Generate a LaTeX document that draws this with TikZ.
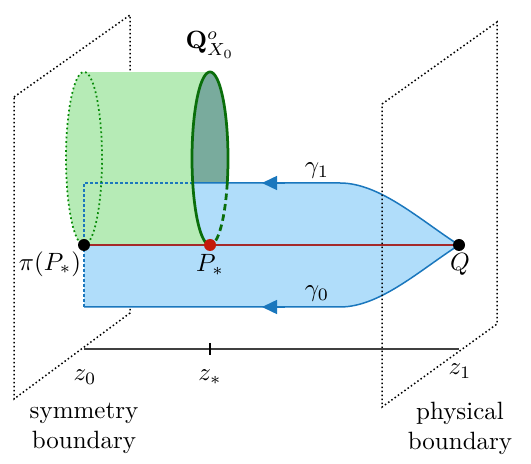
\documentclass[tikz,border=0pt]{standalone}
\usetikzlibrary{arrows.meta}
\definecolor{bfill}{HTML}{B0DDFA}
\definecolor{bline}{HTML}{1A77BD}
\definecolor{gfill}{HTML}{B6EBB6}
\definecolor{gface}{HTML}{79AB9D}
\definecolor{gline}{HTML}{0A6E0A}
\definecolor{rdot}{HTML}{C41A0A}
\definecolor{rline}{HTML}{A52A2A}
\tikzset{
  plane/.style={black, line width=0.6pt, dash pattern=on 0.6pt off 1.0pt},
  bluepath/.style={bline, line width=0.6pt},
  bluedash/.style={bline, line width=0.6pt, dash pattern=on 1.2pt off 0.8pt},
  gsolid/.style={gline, line width=1.1pt},
  gdash/.style={gline, line width=1.1pt, dash pattern=on 2.6pt off 1.6pt},
  gdot/.style={gline!80!green, line width=0.7pt, dash pattern=on 0.7pt off 1.1pt},
  garrow/.style={bline, -{Triangle[length=6pt,width=5.6pt]}, line width=0.6pt},
  dot/.style={circle, fill=black, inner sep=0pt, minimum size=4.8pt},
  lbl/.style={inner sep=1pt},
}
\begin{document}
\begin{tikzpicture}[x=0.4pt,y=-0.4pt]
\useasboundingbox (0,0) rectangle (531,464);
% points
\coordinate (pi) at (84,245);
\coordinate (P) at (210,245);
\coordinate (Q) at (459,245);
\coordinate (t0) at (84,183);
\coordinate (t1) at (192.7,183);
\coordinate (t2) at (340,183);
\coordinate (b0) at (84,307);
\coordinate (b2) at (340,307);
% left plane
\draw[plane] (14,97) coordinate (L1) -- (130,15) coordinate (L2) -- (130,313) coordinate (L3) -- (14,399) coordinate (L4) -- cycle;
% blue sheet
\fill[bfill] (t0) -- (t2) .. controls (380,183) and (420,220) .. (Q)
  .. controls (420,270) and (380,307) .. (b2) -- (b0) -- cycle;
% green cylinder body
\fill[gfill] (84,72) -- (210,72) -- (210,245) -- (84,245) -- cycle;
\fill[gfill] (84,158.5) ellipse [x radius=18, y radius=86.5];
% right face
\begin{scope}
  \clip (150,60) rectangle (260,183);
  \fill[gface] plot[domain=0:360, samples=120] ({210+18*cos(\x)},{158.5+86.5*sin(\x)});
\end{scope}
\begin{scope}
  \clip (150,183) rectangle (260,260);
  \fill[bfill] plot[domain=0:360, samples=120] ({210+18*cos(\x)},{158.5+86.5*sin(\x)});
\end{scope}
% blue boundary lines
\draw[bluepath] (t1) -- (t2) .. controls (380,183) and (420,220) .. (Q)
  .. controls (420,270) and (380,307) .. (b2) -- (b0);
\draw[bluedash] (t1) -- (t0) -- (b0);
% red line
\draw[rline, line width=0.5pt] (pi) -- (Q);
% cylinder outlines
\draw[gdot] plot[domain=0:360, samples=120] ({84+18*cos(\x)},{158.5+86.5*sin(\x)});
\draw[gsolid] plot[domain=-90:16.5, samples=60] ({210+18*cos(\x)},{158.5+86.5*sin(\x)});
\draw[gsolid] plot[domain=90:270, samples=100] ({210+18*cos(\x)},{158.5+86.5*sin(\x)});
\draw[gdash] plot[domain=16.5:90, samples=50] ({210+18*cos(\x)},{158.5+86.5*sin(\x)});
% arrows
\coordinate (a1s) at (285,183);
\coordinate (a1e) at (262,183);
\coordinate (a0s) at (285,307);
\coordinate (a0e) at (262,307);
\draw[garrow] (a1s) -- (a1e);
\draw[garrow] (a0s) -- (a0e);
% dots
\node[dot] (npi) at (pi) {};
\node[dot, fill=rdot] (nP) at (P) {};
\node[dot] (nQ) at (Q) {};
% right plane
\draw[plane] (382,104) coordinate (R1) -- (497,22) coordinate (R2) -- (497,324) coordinate (R3) -- (382,407) coordinate (R4) -- cycle;
% axis
\coordinate (z0) at (84,349);
\coordinate (zs) at (210,349);
\coordinate (z1) at (459,349);
\draw[black!75, line width=0.45pt] (z0) -- (z1);
\draw[black, line width=0.5pt] (210,343) -- (210,355);
% labels
\node[lbl] (lQo) at (210,45) {$\mathbf{Q}^{o}_{X_0}$};
\node[lbl] (lpi) at (50,264) {$\pi(P_*)$};
\node[lbl] (lP) at (210,265) {$P_*$};
\node[lbl] (lQ) at (460,264) {$Q$};
\node[lbl] (lg1) at (317,171) {$\gamma_1$};
\node[lbl] (lg0) at (317,294) {$\gamma_0$};
\node[lbl] (lz0) at (85,377) {$z_0$};
\node[lbl] (lzs) at (210,377) {$z_*$};
\node[lbl] (lz1) at (460,371) {$z_1$};
\node[lbl, align=center] (lsym) at (84,428) {symmetry\\boundary};
\node[lbl, align=center] (lphy) at (460,428) {physical\\boundary};
\end{tikzpicture}
\end{document}
